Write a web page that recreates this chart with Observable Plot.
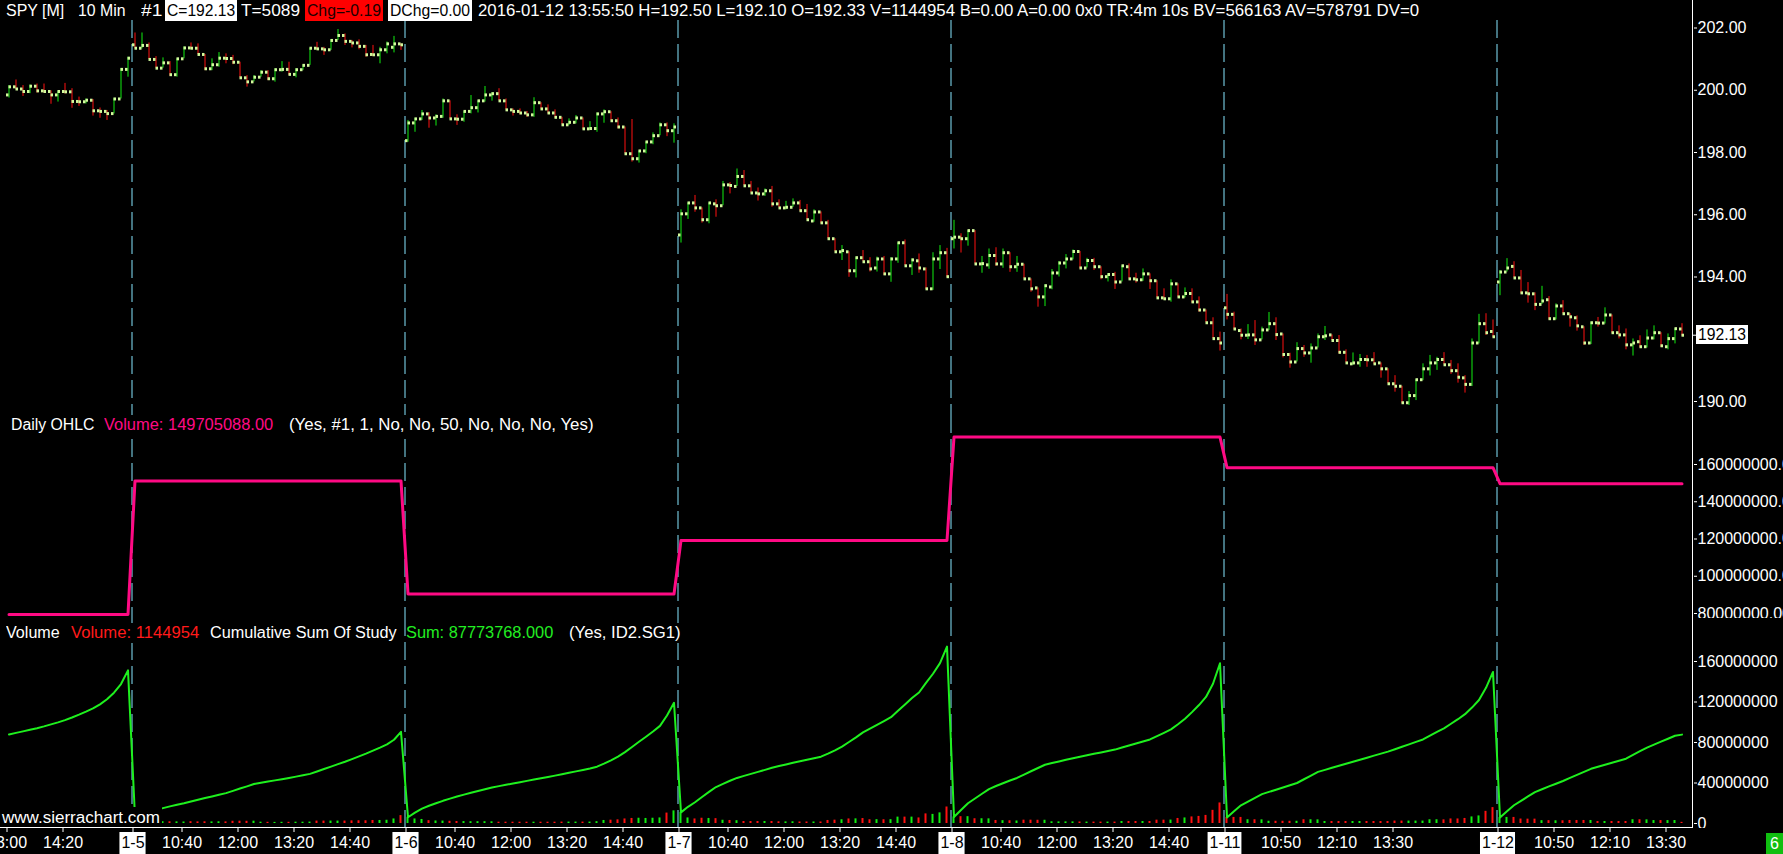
<!DOCTYPE html>
<html><head><meta charset="utf-8">
<script src="https://cdn.jsdelivr.net/npm/d3@7"></script>
<script src="https://cdn.jsdelivr.net/npm/@observablehq/plot@0.6"></script>
<style>
html,body{margin:0;padding:0;background:#000;overflow:hidden;width:1783px;height:854px;}
#root{position:relative;width:1783px;height:854px;background:#000;font-family:"Liberation Sans",Arial,sans-serif;color:#fff;overflow:hidden;}
.pnl{position:absolute;left:0;}
.pnl svg{display:block;}
</style></head><body><div id="root"></div><script>
// ---------------- DATA ----------------
const days = ["1-4","1-5","1-6","1-7","1-8","1-11","1-12"];
// [open, high, low, close] per 10-minute bar
const bars0104 = [[199.85,200.15,199.75,200.11],[200.11,200.33,200.02,200.04],[200.04,200.15,199.80,199.96],[199.96,200.17,199.89,200.13],[200.13,200.20,199.91,199.98],[199.98,200.20,199.91,199.96],[199.96,199.98,199.55,199.85],[199.85,199.97,199.62,199.96],[199.96,200.22,199.88,199.95],[199.95,200.05,199.42,199.64],[199.64,199.78,199.48,199.63],[199.63,199.72,199.56,199.68],[199.68,199.70,199.17,199.34],[199.34,199.43,199.10,199.32],[199.32,199.35,199.03,199.25],[199.25,199.74,199.24,199.72],[199.72,200.70,199.72,200.67],[200.67,201.06,200.42,201.03]];
const bars0105 = [[201.46,201.84,201.33,201.35],[201.35,201.84,201.33,201.44],[201.44,201.52,200.99,200.99],[200.99,201.08,200.71,200.71],[200.71,201.04,200.71,200.88],[200.88,200.92,200.45,200.50],[200.50,201.01,200.42,201.01],[201.01,201.39,201.01,201.36],[201.36,201.52,201.31,201.35],[201.35,201.49,201.15,201.15],[201.15,201.15,200.63,200.69],[200.69,201.01,200.63,200.82],[200.82,201.21,200.74,201.03],[201.03,201.17,200.85,201.02],[201.02,201.12,200.82,200.90],[200.90,200.90,200.40,200.40],[200.40,200.47,200.10,200.27],[200.27,200.47,200.27,200.42],[200.42,200.63,200.42,200.58],[200.58,200.63,200.31,200.37],[200.37,200.69,200.26,200.66],[200.66,200.92,200.58,200.67],[200.67,200.90,200.47,200.51],[200.51,200.69,200.40,200.66],[200.66,200.82,200.63,200.80],[200.80,201.35,200.80,201.35],[201.35,201.54,201.30,201.33],[201.33,201.38,201.12,201.30],[201.30,201.63,201.28,201.60],[201.60,201.95,201.60,201.76],[201.76,201.81,201.44,201.57],[201.57,201.60,201.36,201.52],[201.52,201.62,201.30,201.41],[201.41,201.44,201.06,201.14],[201.15,201.44,201.08,201.14],[201.14,201.38,200.85,201.30],[201.30,201.55,201.17,201.49],[201.38,201.73,201.20,201.49],[201.49,201.49,201.28,201.46]];
const bars0106 = [[198.38,199.03,198.33,198.95],[198.95,199.10,198.65,199.08],[199.08,199.35,199.03,199.24],[199.24,199.28,198.78,199.11],[199.11,199.21,198.85,199.16],[199.16,199.72,199.10,199.66],[199.66,199.66,199.08,199.08],[199.08,199.21,198.87,199.07],[199.07,199.32,198.97,199.32],[199.32,199.83,199.24,199.44],[199.44,199.66,199.27,199.66],[199.66,200.12,199.62,199.85],[199.85,199.92,199.65,199.89],[199.89,200.05,199.66,199.66],[199.66,199.72,199.37,199.37],[199.37,199.40,199.17,199.32],[199.32,199.40,199.21,199.27],[199.27,199.32,199.13,199.21],[199.21,199.76,199.13,199.60],[199.60,199.60,199.40,199.40],[199.40,199.53,199.24,199.27],[199.27,199.37,199.10,199.13],[199.13,199.13,198.89,198.89],[198.89,199.08,198.87,198.97],[198.97,199.19,198.92,199.11],[199.11,199.11,198.73,198.76],[198.76,198.99,198.73,198.77],[198.77,199.27,198.65,199.24],[199.24,199.37,198.94,199.31],[199.31,199.31,199.02,199.02],[199.02,199.11,198.76,198.82],[198.82,198.82,197.96,197.96],[197.96,199.06,197.69,197.80],[197.80,198.05,197.66,198.05],[198.05,198.34,197.96,198.34],[198.34,198.63,198.25,198.54],[198.54,198.95,198.54,198.89],[198.89,198.95,198.51,198.70],[198.70,198.92,198.30,198.82]];
const bars0107 = [[195.35,196.16,195.09,196.03],[196.03,196.38,195.85,196.38],[196.38,196.62,196.08,196.22],[196.22,196.22,195.73,195.84],[195.84,196.38,195.71,196.38],[196.35,196.48,195.92,196.29],[196.29,197.07,196.29,196.96],[196.96,197.03,196.67,196.94],[196.91,197.47,196.91,197.23],[197.23,197.42,196.93,196.93],[196.93,197.07,196.70,196.70],[196.70,196.86,196.44,196.67],[196.67,196.83,196.59,196.77],[196.77,196.91,196.24,196.35],[196.35,196.48,196.22,196.22],[196.22,196.43,196.16,196.24],[196.24,196.51,196.24,196.38],[196.38,196.46,196.11,196.13],[196.13,196.33,195.84,195.84],[195.80,196.16,195.76,196.09],[196.09,196.09,195.71,195.74],[195.74,195.82,195.23,195.23],[195.23,195.23,194.81,194.81],[194.81,195.01,194.53,194.85],[194.81,194.81,193.99,194.20],[194.20,194.64,193.97,194.62],[194.62,194.85,194.49,194.49],[194.49,194.62,194.16,194.26],[194.29,194.64,194.16,194.58],[194.58,194.66,194.05,194.10],[194.10,194.62,193.83,194.58],[194.58,195.10,194.44,195.10],[195.10,195.19,194.36,194.36],[194.36,194.58,194.05,194.55],[194.52,194.74,194.12,194.29],[194.26,194.29,193.60,193.62],[193.62,194.78,193.57,194.58],[194.58,195.01,194.24,194.78],[194.78,194.92,193.99,194.01]];
const bars0108 = [[195.23,195.82,194.90,195.28],[195.28,195.39,194.77,195.23],[195.23,195.49,194.99,195.49],[195.49,195.49,194.42,194.42],[194.42,194.66,194.12,194.43],[194.39,194.90,194.25,194.69],[194.69,194.94,194.34,194.42],[194.42,194.90,194.28,194.78],[194.78,194.78,194.15,194.33],[194.33,194.66,194.15,194.41],[194.41,194.41,193.94,193.94],[193.94,193.94,193.51,193.62],[193.65,193.65,193.03,193.36],[193.36,193.75,193.05,193.72],[193.68,194.24,193.59,194.13],[194.13,194.50,194.00,194.45],[194.45,194.72,194.26,194.58],[194.58,194.87,194.55,194.82],[194.82,194.82,194.26,194.29],[194.29,194.60,194.29,194.53],[194.53,194.60,194.21,194.33],[194.33,194.33,193.91,194.01],[194.01,194.10,193.84,194.08],[194.08,194.15,193.60,193.84],[193.84,194.36,193.84,194.36],[194.33,194.42,193.94,193.94],[193.94,194.12,193.80,193.91],[193.91,194.26,193.86,194.10],[194.10,194.10,193.60,193.88],[193.88,193.88,193.33,193.33],[193.33,193.62,193.25,193.30],[193.30,193.91,193.19,193.78],[193.78,193.78,193.35,193.36],[193.36,193.65,193.33,193.47],[193.47,193.62,193.16,193.20],[193.20,193.36,192.87,192.94],[192.94,192.94,192.53,192.53],[192.53,192.69,192.02,192.02],[192.02,192.23,191.62,191.88]];
const bars0111 = [[193.01,193.44,192.62,192.80],[192.80,192.87,192.30,192.33],[192.28,192.33,191.98,192.13],[192.13,192.47,191.99,192.14],[192.14,192.60,191.80,191.98],[191.98,192.39,191.98,192.30],[192.30,192.86,192.28,192.50],[192.50,192.69,191.96,192.15],[192.17,192.17,191.40,191.51],[191.51,191.55,191.07,191.27],[191.27,191.89,191.27,191.70],[191.70,191.80,191.42,191.56],[191.56,191.85,191.23,191.72],[191.72,192.17,191.72,192.08],[192.08,192.41,191.96,192.11],[192.14,192.14,191.96,191.96],[191.96,192.12,191.53,191.58],[191.58,191.66,191.24,191.24],[191.21,191.56,191.16,191.24],[191.24,191.51,191.10,191.35],[191.35,191.48,191.10,191.34],[191.34,191.57,191.19,191.21],[191.24,191.24,190.75,191.05],[191.05,191.05,190.57,190.57],[190.57,190.83,190.30,190.49],[190.49,190.49,189.93,189.96],[189.96,190.32,189.87,190.19],[190.19,190.70,190.03,190.70],[190.70,191.21,190.67,191.05],[191.05,191.48,190.82,191.24],[191.24,191.42,191.00,191.35],[191.35,191.57,191.18,191.18],[191.18,191.32,190.87,190.99],[190.99,191.21,190.59,190.78],[190.76,190.83,190.27,190.55],[190.55,192.01,190.48,191.88],[191.88,192.80,191.85,192.50],[192.50,192.82,192.12,192.21],[192.25,192.62,192.05,192.08]];
const bars0112 = [[193.84,194.21,193.40,194.16],[194.16,194.59,194.16,194.29],[194.34,194.49,193.97,193.97],[193.97,194.21,193.46,193.49],[193.49,193.82,193.16,193.46],[193.46,193.49,192.92,193.12],[193.12,193.70,193.12,193.23],[193.27,193.37,192.62,192.66],[192.66,193.14,192.62,193.07],[193.07,193.24,192.82,192.82],[192.82,192.82,192.39,192.72],[192.69,192.75,192.26,192.43],[192.40,192.40,191.80,191.88],[191.88,192.55,191.83,192.53],[192.53,192.70,192.39,192.52],[192.52,193.01,192.49,192.78],[192.78,192.78,192.19,192.21],[192.21,192.43,192.01,192.14],[192.14,192.33,191.66,191.82],[191.82,192.01,191.46,191.88],[191.92,192.11,191.72,191.76],[191.76,192.30,191.72,192.04],[192.04,192.43,191.98,192.21],[192.21,192.21,191.74,191.79],[191.76,192.17,191.66,192.02],[192.02,192.34,191.85,192.34],[192.33,192.50,192.10,192.13]];
// volume per bar, millions of shares
const vol0104 = [1.6,1.6,1.5,1.5,1.6,1.8,2.0,2.0,2.2,2.6,2.8,3.0,3.2,4.0,5.0,6.5,8.5,13.5];
const vol0105 = [6.5,2.6,2.3,2.0,1.8,1.7,1.6,1.5,1.8,1.6,1.7,1.6,1.7,1.6,2.2,2.3,2.2,2.3,1.3,1.2,1.1,1.2,1.2,1.3,1.3,1.4,2.4,2.4,2.4,2.4,2.4,2.6,2.7,2.7,3.0,3.0,3.2,4.5,7.8];
const vol0106 = [6.2,4.5,4.0,2.8,2.5,2.4,2.2,2.0,1.9,1.8,1.8,1.8,1.7,1.3,1.3,1.3,1.3,1.3,1.3,1.3,1.3,1.3,1.4,1.4,1.4,1.4,1.4,1.8,3.0,3.3,3.6,4.5,5.0,5.2,5.0,5.2,5.5,10.3,12.5];
const vol0107 = [11.0,5.5,4.5,5.2,5.0,4.8,3.2,3.0,2.8,2.0,2.0,2.0,2.0,2.0,1.7,1.6,1.7,1.5,1.5,1.5,1.5,3.0,3.3,3.7,4.5,4.6,4.9,3.7,3.8,3.7,3.8,6.3,6.3,6.3,5.5,9.5,9.0,10.5,16.3];
const vol0108 = [6.5,6.75,6.75,4.7,4.7,4.6,3.0,2.8,2.7,2.5,3.3,3.3,3.2,3.2,1.7,1.6,1.6,1.6,1.5,1.4,1.4,1.4,1.4,1.4,2.0,2.0,2.0,2.0,2.0,3.3,3.3,3.4,5.0,5.5,6.5,7.0,8.0,13.0,20.3];
const vol0111 = [6.0,6.0,6.0,3.7,3.7,3.6,2.2,2.2,2.2,2.2,2.2,3.7,3.7,3.6,2.0,2.0,2.0,2.0,2.0,2.0,2.0,2.0,2.0,2.0,2.4,2.4,2.4,2.4,2.4,3.7,3.7,3.6,4.5,4.5,5.0,6.5,7.5,12.0,15.705088];
const vol0112 = [6.0,6.0,6.0,4.4,4.3,4.3,2.8,2.8,2.7,2.7,3.0,3.0,3.0,3.0,2.0,2.0,2.0,2.0,2.0,3.7,3.7,3.6,2.9,2.9,2.9,2.928814,1.144954];
const cumBefore0104 = 86.3; // 1-4 cumulative volume (M) before the first visible bar
// Daily OHLC study volume shown in each day (millions)
const dailyOhlcVolume = [79.5, 151.2, 90.5, 119.2, 174.7, 158.3, 149.705088];
// price axis ticks / volume axis ticks
const priceTicks = [190, 194, 196, 198, 200, 202];
const dailyTicks = [80e6, 100e6, 120e6, 140e6, 160e6];
const volTicks = [0, 40e6, 80e6, 120e6, 160e6];
const lastPrice = 192.13;
// bottom axis: bar index of tick and its label
const xTickIndex = [0,8,18,25,33,41,49,57,64,72,80,88,96,103,111,119,127,135,142,150,158,166,174,182,190,198,213,221,229,237];
const xTickLabel = ["13:00","14:20","1-5","10:40","12:00","13:20","14:40","1-6","10:40","12:00","13:20","14:40","1-7","10:40","12:00","13:20","14:40","1-8","10:40","12:00","13:20","14:40","1-11","10:50","12:10","13:30","1-12","10:50","12:10","13:30"];
const headerTexts = ["SPY [M]","10 Min","#1","C=192.13","T=5089","Chg=-0.19","DChg=0.00","2016-01-12 13:55:50 H=192.50 L=192.10 O=192.33 V=1144954 B=0.00 A=0.00 0x0 TR:4m 10s BV=566163 AV=578791 DV=0"];
const dailyLabel = ["Daily OHLC","Volume: 149705088.00","(Yes, #1, 1, No, No, 50, No, No, No, Yes)"];
const volumeLabel = ["Volume","Volume: 1144954","Cumulative Sum Of Study","Sum: 87773768.000","(Yes, ID2.SG1)"];

// ---------------- BUILD ----------------
const dayBars = [bars0104,bars0105,bars0106,bars0107,bars0108,bars0111,bars0112];
const dayVols = [vol0104,vol0105,vol0106,vol0107,vol0108,vol0111,vol0112];
const rows = [];
const sepIdx = [];
let idx = 0;
dayBars.forEach((bars, d) => {
  if (d > 0) sepIdx.push(idx);
  const cums = d3.cumsum(dayVols[d]);
  bars.forEach(([o,h,l,c], k) => {
    rows.push({i: idx++, o, h, l, c, up: c >= o, vol: dayVols[d][k]*1e6,
      cum: ((d === 0 ? cumBefore0104 : 0) + cums[k]) * 1e6, dv: dailyOhlcVolume[d]*1e6});
  });
});

const W = 1783, MR = 90;
const xScale = {domain: [-5/7, 1688/7]};
const GREEN = "#10ee10", RED = "#ff1010", SQ = "#d2fa9c", SEP = "#86e6ff";
const baseStyle = {background:"#000", color:"#fff", fontFamily:"'Liberation Sans', Arial, sans-serif", fontSize:"16px", overflow:"visible"};
const sepMark = () => Plot.ruleX(sepIdx, {x: d => d + 0.5/7, stroke: SEP, strokeWidth: 1, strokeDasharray: "18,6"});

const root = document.getElementById("root");
function addPanel(svg, top) {
  const div = document.createElement("div");
  div.className = "pnl"; div.style.top = top + "px";
  div.appendChild(svg); root.appendChild(div);
  return div;
}

// price panel
const pricePlot = Plot.plot({
  width: W, height: 395, marginLeft: 0, marginRight: MR, marginTop: 0, marginBottom: 0,
  style: baseStyle,
  x: {...xScale, axis: null},
  y: {domain: [190, 202], range: [381, 7.5], axis: null},
  marks: [
    sepMark(),
    Plot.ruleX(rows, {x: d => d.i + 0.5, y1: "l", y2: "h", stroke: d => d.up ? GREEN : RED, strokeWidth: 1}),
    Plot.ruleY(rows, {y: "o", x1: d => d.i + 1/7, x2: d => d.i + 3.5/7, stroke: SQ, strokeWidth: 3}),
    Plot.ruleY(rows, {y: "c", x1: d => d.i + 3.5/7, x2: d => d.i + 6/7, stroke: SQ, strokeWidth: 3}),
    Plot.axisY(priceTicks, {anchor: "right", tickSize: 3, tickPadding: 1, tickFormat: d3.format(".2f"), label: null}),
    Plot.ruleY([lastPrice], {x1: 1688/7, x2: 1691/7, stroke: "#fff"})
  ]
});
addPanel(pricePlot, 20);

// daily OHLC volume panel
const dailyPlot = Plot.plot({
  width: W, height: 203, marginLeft: 0, marginRight: MR, marginTop: 0, marginBottom: 0,
  style: baseStyle,
  x: {...xScale, axis: null},
  y: {domain: [80e6, 160e6], range: [198, 49], axis: null},
  marks: [
    sepMark(),
    Plot.line(rows, {x: d => d.i + 0.5, y: "dv", stroke: "#ff0a84", strokeWidth: 3}),
    Plot.axisY(dailyTicks, {anchor: "right", tickSize: 3, tickPadding: 1, tickFormat: d => d.toFixed(2), label: null})
  ]
});
addPanel(dailyPlot, 415);

// volume + cumulative panel
const volPlot = Plot.plot({
  width: W, height: 210, marginLeft: 0, marginRight: MR, marginTop: 0, marginBottom: 0,
  style: baseStyle,
  x: {...xScale, axis: null},
  y: {domain: [0, 160e6], range: [205, 43], axis: null},
  marks: [
    sepMark(),
    Plot.ruleX(rows, {x: d => d.i + 3/7, y1: 0, y2: "vol", stroke: d => d.up ? GREEN : RED, strokeWidth: 2}),
    Plot.line(rows, {x: d => d.i + 0.5, y: "cum", stroke: "#1ef01e", strokeWidth: 2}),
    Plot.axisY(volTicks, {anchor: "right", tickSize: 3, tickPadding: 1, tickFormat: d => String(d), label: null})
  ]
});
addPanel(volPlot, 618);

// bottom time axis
const cv = document.createElement("canvas").getContext("2d");
cv.font = "16px 'Liberation Sans'";
const ticks = xTickIndex.map((t, j) => ({t: t + 1.5/7, label: xTickLabel[j], date: xTickLabel[j].includes("-"), w: cv.measureText(xTickLabel[j]).width + 3}));
const axisPlot = Plot.plot({
  width: W, height: 26, marginLeft: 0, marginRight: MR, marginTop: 0, marginBottom: 0,
  style: {...baseStyle, overflow: "hidden"},
  x: {...xScale, axis: null},
  y: {domain: [0, 26], range: [0, 26], axis: null},
  marks: [
    Plot.ruleX(ticks, {x: "t", y1: 0, y2: 4, stroke: "#fff"}),
    Plot.rect(ticks.filter(d => d.date), {x1: d => d.t - d.w/14, x2: d => d.t + d.w/14, y1: 4, y2: 26, fill: "#fff"}),
    Plot.text(ticks, {x: "t", y: 14.5, text: "label", fill: d => d.date ? "#000" : "#fff", fontSize: 16})
  ]
});
addPanel(axisPlot, 828);

// ---------------- overlays (text + lines) ----------------
function addBox(x, y, w, h, bg) {
  const d = document.createElement("div");
  d.style.cssText = `position:absolute;left:${x}px;top:${y}px;width:${w}px;height:${h}px;background:${bg};`;
  root.appendChild(d); return d;
}
function addText(txt, x, yc, w, color, bg) {
  const d = document.createElement("div");
  d.style.cssText = `position:absolute;left:${x}px;top:${yc-10}px;height:20px;line-height:20px;font-size:16px;white-space:pre;color:${color};` + (bg ? `background:${bg};` : "");
  const s = document.createElement("span");
  s.textContent = txt; s.style.display = "inline-block"; s.style.transformOrigin = "0 50%";
  d.appendChild(s); root.appendChild(d);
  if (w) { const nw = s.getBoundingClientRect().width; s.style.transform = `scaleX(${w/nw})`; d.style.width = w + "px"; }
  return d;
}
function addBoxText(txt, x, y, w, h, bg, fg) {
  const b = addBox(x, y, w, h, bg);
  const s = document.createElement("span");
  s.textContent = txt;
  s.style.cssText = `position:absolute;left:2px;top:0;line-height:${h}px;font-size:16px;white-space:pre;color:${fg};display:inline-block;transform-origin:0 50%;`;
  b.appendChild(s);
  const nw = s.getBoundingClientRect().width; s.style.transform = `scaleX(${(w-4)/nw})`;
}

// axis lines
addBox(1692, 0, 1, 828, "#fff");
addBox(0, 827, 1693, 1, "#fff");

// header
addBox(0, 0, 1692, 20, "#000");
addText(headerTexts[0], 5.7, 10.5, 58.3, "#fff");
addText(headerTexts[1], 77.5, 10.5, 47.5, "#fff");
addText(headerTexts[2], 140.6, 10.5, 21.4, "#fff");
addBoxText(headerTexts[3], 164.8, 0, 72.2, 21, "#fff", "#000");
addText(headerTexts[4], 241, 10.5, 59, "#fff");
addBoxText(headerTexts[5], 305, 0, 78, 21, "#ff0000", "#1a0000");
addBoxText(headerTexts[6], 388, 0, 84, 21, "#fff", "#000");
addText(headerTexts[7], 478, 10.5, 941, "#fff");

// panel labels (drawn over the separators, like the study name line)
addText(dailyLabel[0], 11.2, 425, 83.4, "#fff", "#000");
addText(dailyLabel[1], 104, 425, 169.2, "#ff0a84", "#000");
addText(dailyLabel[2], 289.3, 425, 304.5, "#fff", "#000");
addText(volumeLabel[0], 6.3, 632.7, 53.7, "#fff", "#000");
addText(volumeLabel[1], 71.4, 632.7, 128.2, "#ff1a1a", "#000");
addText(volumeLabel[2], 209.8, 632.7, 186.6, "#fff", "#000");
addText(volumeLabel[3], 406.3, 632.7, 147.3, "#22ee22", "#000");
addText(volumeLabel[4], 569.2, 632.7, 111.6, "#fff", "#000");

// last price box
addBoxText(d3.format(".2f")(lastPrice), 1695.7, 325, 52, 19, "#fff", "#000");

// watermark
addBox(0, 807, 162, 20, "#000");
addText("www.sierrachart.com", 1.7, 818, 158, "#fff");

// page number box
addBox(1766, 833, 17, 21, "#10bf10");
addText("6", 1770, 843.5, 0, "#fff");
</script></body></html>
